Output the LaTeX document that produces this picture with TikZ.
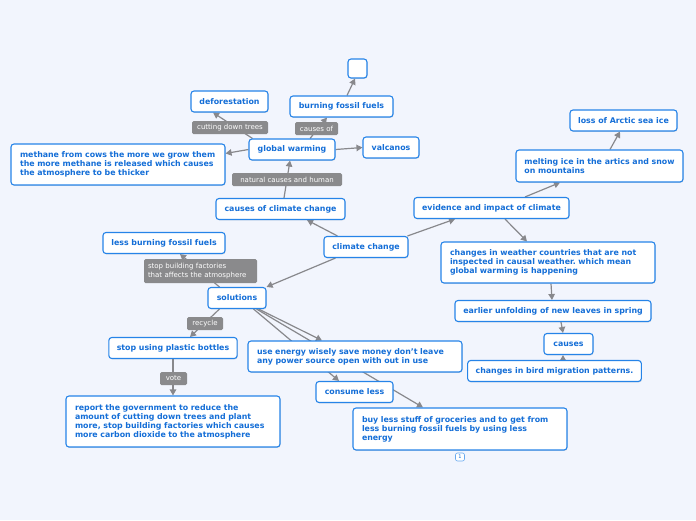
\documentclass[tikz,border=0pt]{standalone}
\usepackage{fontspec}
\setmainfont{DejaVu Sans}
\usetikzlibrary{arrows.meta,shadows}
\definecolor{bgc}{RGB}{242,245,253}
\definecolor{tblue}{RGB}{20,110,215}
\definecolor{bblue}{RGB}{38,132,232}
\definecolor{lgray}{RGB}{138,138,140}
\definecolor{egray}{RGB}{136,136,140}
\pgfdeclarelayer{bglayer}
\pgfdeclarelayer{edgelayer}
\pgfsetlayers{bglayer,edgelayer,main}
\frenchspacing
\begin{document}
\begin{tikzpicture}[x=1pt,y=-1pt,
  box/.style={draw=bblue, fill=white, line width=1.1pt, rounded corners=3pt, text=tblue,
    font=\bfseries\fontsize{7.85}{9}\selectfont, inner xsep=8pt, inner ysep=2pt,
    minimum height=21pt, drop shadow={opacity=0.22, shadow xshift=0.6pt, shadow yshift=-0.9pt}},
  multi/.style={box, align=left, inner xsep=9pt},
  lab/.style={fill=lgray, text=white, font=\fontsize{7}{9.5}\selectfont, rounded corners=1.5pt,
    inner xsep=4pt, inner ysep=1pt, minimum height=13pt},
  edge/.style={draw=egray, line width=1.2pt, -{Triangle[length=6pt,width=6.5pt]}}
]
\begin{pgfonlayer}{bglayer}
\fill[bgc] (0,0) rectangle (696,520);
\end{pgfonlayer}
\useasboundingbox (0,0) rectangle (696,520);

% nodes
\node[box, minimum width=19pt, minimum height=19pt, inner sep=0pt] (empty) at (357.5,68.5) {};
\node[box, minimum width=103pt] (bff) at (341.5,106.5) {burning fossil fuels};
\node[box, minimum width=77pt] (def) at (229.5,101.5) {deforestation};
\node[box, minimum width=86pt] (gw) at (292,149.5) {global warming};
\node[box, minimum width=56pt] (valc) at (391,147.5) {valcanos};
\node[multi, minimum width=214pt, text width=196pt, minimum height=41pt] (meth) at (118,164.5)
  {methane from cows the more we grow them\\the more methane is released which causes\\the atmosphere to be thicker};
\node[box, minimum width=129pt] (ccc) at (280.5,209) {causes of climate change};
\node[box, minimum width=122pt] (lbff) at (164,243) {less burning fossil fuels};
\node[box, minimum width=84pt] (cc) at (366,247) {climate change};
\node[box, minimum width=155pt] (evi) at (491.5,208) {evidence and impact of climate};
\node[box, minimum width=107pt] (loss) at (623.5,120.5) {loss of Arctic sea ice};
\node[box, align=left, inner xsep=6pt, minimum width=167pt, minimum height=32pt] (melt) at (599.5,166)
  {melting ice in the artics and snow\\on mountains};
\node[multi, minimum width=214pt, text width=196pt, minimum height=41pt] (wea) at (548,262.5)
  {changes in weather countries that are not\\inspected in causal weather. which mean\\global warming is happening};
\node[box, minimum width=196pt] (early) at (553,311) {earlier unfolding of new leaves in spring};
\node[box, minimum width=49pt] (causes) at (568.5,344) {causes};
\node[box, minimum width=173pt] (bird) at (554.5,371) {changes in bird migration patterns.};
\node[box, minimum width=58pt] (sol) at (237,298) {solutions};
\node[box, minimum width=128pt] (plast) at (173,348) {stop using plastic bottles};
\node[multi, minimum width=214pt, text width=196pt, minimum height=51pt] (rep) at (173,421.5)
  {report the government to reduce the\\amount of cutting down trees and plant\\more, stop building factories which causes\\more carbon dioxide to the atmosphere};
\node[multi, minimum width=214pt, text width=196pt, minimum height=31pt] (use) at (355,356.5)
  {use energy wisely save money don't leave\\any power source open with out in use};
\node[box, minimum width=77pt] (cons) at (354.5,392) {consume less};
\node[multi, minimum width=214pt, text width=196pt, minimum height=42pt] (buy) at (460,429)
  {buy less stuff of groceries and to get from\\less burning fossil fuels by using less\\energy};
\node[draw=bblue!70, fill=white, rounded corners=2pt, line width=0.6pt, minimum width=9pt,
  minimum height=8pt, inner sep=0pt, text=tblue, font=\fontsize{5}{5}\selectfont] (badge) at (460,457) {1};

% edges
\begin{pgfonlayer}{edgelayer}
\draw[edge] ([xshift=5.5pt]bff.north) -- ([xshift=-2.5pt]empty.south);
\draw[edge] ([xshift=18pt]gw.north) -- ([xshift=-14.5pt]bff.south);
\draw[edge] ([xshift=4pt]gw.north west) -- ([xshift=-16.5pt]def.south);
\draw[edge] (gw.west) -- ([yshift=-10pt]meth.north east);
\draw[edge] (gw.east) -- (valc.west);
\draw[edge] ([xshift=3.5pt]ccc.north) -- ([xshift=-2pt]gw.south);
\draw[edge] ([xshift=14pt]cc.north west) -- ([xshift=26.5pt]ccc.south);
\draw[edge] ([xshift=-1pt]cc.north east) -- ([xshift=-36.5pt]evi.south);
\draw[edge] ([xshift=12pt]cc.south west) -- (sol.north east);
\draw[edge] ([xshift=33.5pt]evi.north) -- ([xshift=-39.5pt]melt.south);
\draw[edge] ([xshift=10.5pt]melt.north) -- ([xshift=-3.5pt]loss.south);
\draw[edge] ([xshift=13.5pt]evi.south) -- ([xshift=-21pt]wea.north);
\draw[edge] ([xshift=3pt]wea.south) -- ([xshift=-1pt]early.north);
\draw[edge] ([xshift=8pt]early.south) -- ([xshift=-5.5pt]causes.north);
\draw[edge] ([xshift=8.5pt]bird.north) -- ([xshift=-5.5pt]causes.south);
\draw[edge] ([xshift=12pt]sol.north west) -- ([xshift=16pt]lbff.south);
\draw[edge] ([xshift=12pt]sol.south west) -- ([xshift=17pt]plast.north);
\draw[edge] (plast.south) -- (rep.north);
\draw[edge] ([xshift=-8pt]sol.south east) -- ([xshift=-33pt]use.north);
\draw[edge] ([xshift=-13pt]sol.south east) -- ([xshift=-15.5pt]cons.north);
\draw[edge] ([xshift=-10pt]sol.south east) -- ([xshift=-37pt]buy.north);
\end{pgfonlayer}

% edge labels
\node[lab, minimum width=76pt] (l1) at (230,127.5) {cutting down trees};
\node[lab, minimum width=43pt] (l2) at (316.5,128.5) {causes of};
\node[lab, minimum width=110pt] (l3) at (287,179.5) {natural causes and human};
\node[lab, minimum width=113pt, minimum height=24pt, align=left, text width=105pt] (l4) at (200.5,271)
  {stop building factories\\that affects the atmosphere};
\node[lab, minimum width=36pt] (l5) at (205,323.5) {recycle};
\node[lab, minimum width=27pt] (l6) at (173.5,378.5) {vote};
\end{tikzpicture}
\end{document}
